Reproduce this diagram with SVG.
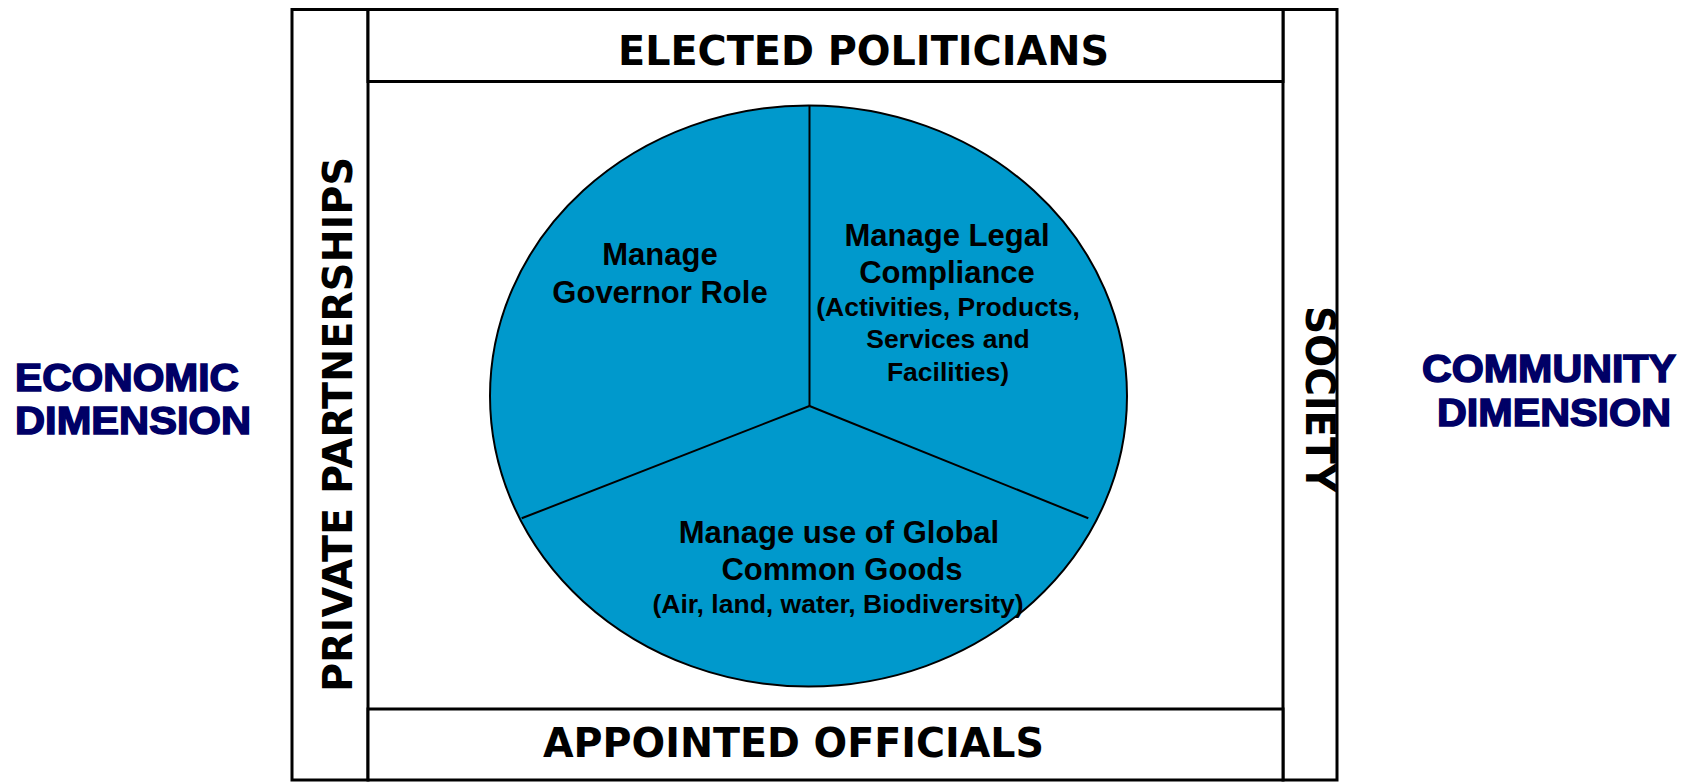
<svg xmlns="http://www.w3.org/2000/svg" width="1695" height="783" viewBox="0 0 1695 783">
<style>
.frame{fill:#fff;stroke:#000;stroke-width:3}
.title{font-family:"DejaVu Sans",Verdana,sans-serif;font-weight:bold;font-size:41px;fill:#000}
.dim{font-family:"Liberation Sans",Arial,sans-serif;font-weight:bold;font-size:38px;fill:#000066;stroke:#000066;stroke-width:1.5}
.pie{fill:#0099CC;stroke:#000;stroke-width:2}
.div{stroke:#000;stroke-width:2;fill:none}
.h{font-family:"Liberation Sans",Arial,sans-serif;font-weight:bold;font-size:31px;fill:#000;text-anchor:middle}
.s{font-family:"Liberation Sans",Arial,sans-serif;font-weight:bold;font-size:26.5px;fill:#000;text-anchor:middle}
</style>
<rect width="1695" height="783" fill="#fff"/>
<g id="economic-dimension">
<text class="dim" x="15" y="391" textLength="224" lengthAdjust="spacingAndGlyphs">ECONOMIC</text>
<text class="dim" x="15" y="434" textLength="236" lengthAdjust="spacingAndGlyphs">DIMENSION</text>
</g>
<g id="community-dimension">
<text class="dim" x="1422" y="382" textLength="254" lengthAdjust="spacingAndGlyphs">COMMUNITY</text>
<text class="dim" x="1437" y="426" textLength="234" lengthAdjust="spacingAndGlyphs">DIMENSION</text>
</g>
<g id="private-partnerships">
<rect class="frame" x="292" y="9.5" width="76" height="770.5"/>
<text class="title" x="352" y="424.5" text-anchor="middle" textLength="535" lengthAdjust="spacingAndGlyphs" transform="rotate(-90 352 424.5)">PRIVATE PARTNERSHIPS</text>
</g>
<g id="society">
<rect class="frame" x="1283" y="9.5" width="54" height="770.5"/>
<text class="title" x="1306" y="399" text-anchor="middle" textLength="186" lengthAdjust="spacingAndGlyphs" transform="rotate(90 1306 399)">SOCIETY</text>
</g>
<g id="elected-politicians">
<rect class="frame" x="368" y="9.5" width="915" height="72"/>
<text class="title" x="618" y="65" textLength="491" lengthAdjust="spacingAndGlyphs">ELECTED POLITICIANS</text>
</g>
<g id="appointed-officials">
<rect class="frame" x="368" y="709" width="915" height="71"/>
<text class="title" x="543" y="757" textLength="501" lengthAdjust="spacingAndGlyphs">APPOINTED OFFICIALS</text>
</g>
<g id="pie">
<ellipse class="pie" cx="808.5" cy="396" rx="318.5" ry="290.5"/>
</g>
<g id="connectors">
<line class="div" x1="809.5" y1="105.5" x2="809.5" y2="406"/>
<line class="div" x1="809.5" y1="406" x2="521.7" y2="518.3"/>
<line class="div" x1="809.5" y1="406" x2="1088.3" y2="518.3"/>
</g>
<g id="governor-role">
<text class="h" x="660" y="265">Manage</text>
<text class="h" x="660" y="303">Governor Role</text>
</g>
<g id="legal-compliance">
<text class="h" x="947" y="246">Manage Legal</text>
<text class="h" x="947" y="283">Compliance</text>
<text class="s" x="948" y="316">(Activities, Products,</text>
<text class="s" x="948" y="348">Services and</text>
<text class="s" x="948" y="381">Facilities)</text>
</g>
<g id="global-common-goods">
<text class="h" x="839" y="543">Manage use of Global</text>
<text class="h" x="842" y="580">Common Goods</text>
<text class="s" x="838" y="613">(Air, land, water, Biodiversity)</text>
</g>
</svg>
